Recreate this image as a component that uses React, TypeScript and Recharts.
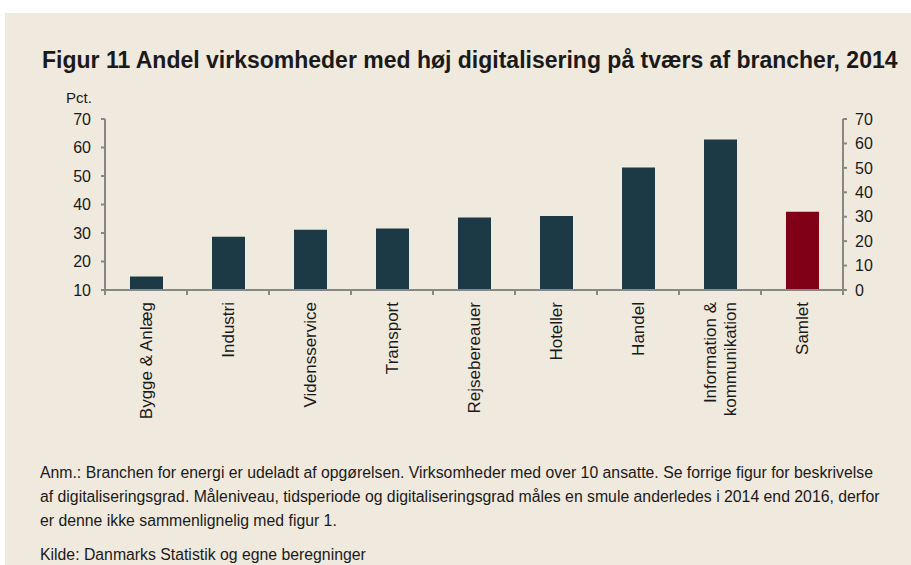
import { ComposedChart, Bar, Line, XAxis, YAxis, Cell } from 'recharts';

const categories = [
    'Bygge & Anlæg',
    'Industri',
    'Vidensservice',
    'Transport',
    'Rejsebereauer',
    'Hoteller',
    'Handel',
    'Information &\nkommunikation',
    'Samlet'
];

const shares = [14.7, 28.7, 31.1, 31.6, 35.4, 36.0, 53.0, 62.8, 37.5];

const leftTicks = [10, 20, 30, 40, 50, 60, 70];
const rightTicks = [0, 10, 20, 30, 40, 50, 60, 70];

const noteLines = [
    'Anm.: Branchen for energi er udeladt af opgørelsen. Virksomheder med over 10 ansatte. Se forrige figur for beskrivelse',
    'af digitaliseringsgrad. Måleniveau, tidsperiode og digitaliseringsgrad måles en smule anderledes i 2014 end 2016, derfor',
    'er denne ikke sammenlignelig med figur 1.'
];

const BG = '#f0e9de';
const BAR = '#1c3a46';
const TOTAL = '#800018';
const AXIS = '#878787';
const TEXT = '#1a1a1a';
const FONT = "'Liberation Sans', Arial, sans-serif";

const chartData = categories.map((name, i) => ({ name, value: shares[i] }));

function CategoryTick(props: any) {
    const { x, y, payload, index } = props;
    const half = payload?.offset ?? 41;
    const lines = String(payload.value).split('\n');
    const y0 = y + 12;
    return (
        <g>
            {index === 0 && (
                <line x1={x - half} x2={x - half} y1={y} y2={y + 5} stroke={AXIS} strokeWidth={2} />
            )}
            <line x1={x + half} x2={x + half} y1={y} y2={y + 5} stroke={AXIS} strokeWidth={2} />
            <text
                transform={`rotate(-90 ${x} ${y0})`}
                textAnchor="end"
                fontSize={17}
                fill={TEXT}
                fontFamily={FONT}
            >
                {lines.map((line, i) => (
                    <tspan key={i} x={x} y={y0 + (i - (lines.length - 1) / 2) * 20 + 6}>
                        {line}
                    </tspan>
                ))}
            </text>
        </g>
    );
}

export default function App() {
    return (
        <div
            style={{
                position: 'fixed',
                left: 0,
                top: 0,
                width: 911,
                height: 565,
                overflow: 'hidden',
                background: '#ffffff',
                fontFamily: FONT,
                color: TEXT
            }}
        >
            <div style={{ position: 'absolute', left: 5, top: 13, right: 0, bottom: 0, background: BG }} />
            <div
                style={{
                    position: 'absolute',
                    left: 42,
                    top: 47,
                    fontSize: 23,
                    fontWeight: 'bold',
                    lineHeight: '26px',
                    whiteSpace: 'nowrap'
                }}
            >
                Figur 11 Andel virksomheder med høj digitalisering på tværs af brancher, 2014
            </div>
            <div style={{ position: 'absolute', left: 66, top: 89, fontSize: 15, lineHeight: '18px' }}>Pct.</div>
            <div style={{ position: 'absolute', left: 0, top: 0 }}>
                <ComposedChart
                    width={911}
                    height={440}
                    data={chartData}
                    margin={{ top: 119, right: 0, bottom: 0, left: 0 }}
                >
                    <XAxis
                        dataKey="name"
                        height={150}
                        interval={0}
                        axisLine={{ stroke: AXIS, strokeWidth: 2 }}
                        tickLine={false}
                        tickSize={0}
                        tickMargin={0}
                        tick={<CategoryTick />}
                    />
                    <YAxis
                        yAxisId="left"
                        orientation="left"
                        width={105}
                        domain={[10, 70]}
                        ticks={leftTicks}
                        allowDataOverflow
                        axisLine={{ stroke: AXIS, strokeWidth: 2 }}
                        tickLine={{ stroke: AXIS, strokeWidth: 2 }}
                        tickSize={4}
                        tickMargin={10}
                        tick={{ fill: TEXT, fontSize: 16, fontFamily: FONT }}
                    />
                    <YAxis
                        yAxisId="right"
                        orientation="right"
                        width={68}
                        domain={[0, 70]}
                        ticks={rightTicks}
                        axisLine={{ stroke: AXIS, strokeWidth: 2 }}
                        tickLine={{ stroke: AXIS, strokeWidth: 2 }}
                        tickSize={4}
                        tickMargin={8}
                        tick={{ fill: TEXT, fontSize: 16, fontFamily: FONT }}
                    />
                    <Bar dataKey="value" yAxisId="left" barSize={33} isAnimationActive={false}>
                        {chartData.map((d) => (
                            <Cell key={d.name} fill={d.name === 'Samlet' ? TOTAL : BAR} />
                        ))}
                    </Bar>
                    {/* the right scale carries no series of its own; an unstroked line keeps its ticks drawn */}
                    <Line
                        dataKey="value"
                        yAxisId="right"
                        stroke="none"
                        dot={false}
                        activeDot={false}
                        legendType="none"
                        isAnimationActive={false}
                    />
                </ComposedChart>
            </div>
            {noteLines.map((line, i) => (
                <div
                    key={i}
                    style={{
                        position: 'absolute',
                        left: 40,
                        top: 463 + i * 24,
                        fontSize: 15.8,
                        lineHeight: '20px',
                        whiteSpace: 'nowrap'
                    }}
                >
                    {line}
                </div>
            ))}
            <div
                style={{
                    position: 'absolute',
                    left: 40,
                    top: 545,
                    fontSize: 15.8,
                    lineHeight: '19px',
                    whiteSpace: 'nowrap'
                }}
            >
                Kilde: Danmarks Statistik og egne beregninger
            </div>
        </div>
    );
}
